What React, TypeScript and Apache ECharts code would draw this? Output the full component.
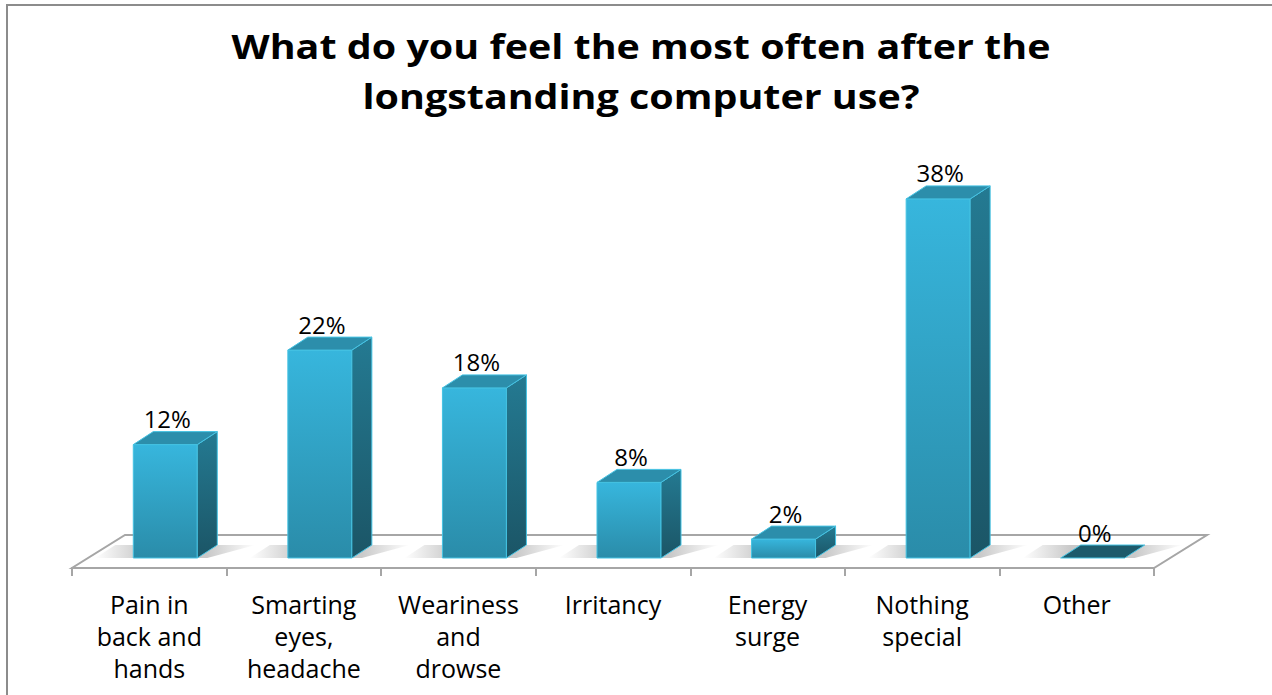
import React, { useEffect, useRef } from "react";
import * as echarts from "echarts";

const TITLE_LINES = ["What do you feel the most often after the", "longstanding computer use?"];
const CATEGORIES = [
  "Pain in\nback and\nhands",
  "Smarting\neyes,\nheadache",
  "Weariness\nand\ndrowse",
  "Irritancy",
  "Energy\nsurge",
  "Nothing\nspecial",
  "Other",
];
const VALUES = [12, 22, 18, 8, 2, 38, 0];
const Y_MAX = 40;

const FONT = "'Open Sans', 'Noto Sans', sans-serif";
const FLOOR_DX = 53;
const FLOOR_DY = 33;
const BAR_BACK = 10;
const BAR_SHIFT = 16;
const BAR_W = 64;
const DEPTH_DX = 20;
const DEPTH_DY = 13;

export default function App() {
  const ref = useRef<HTMLDivElement>(null);
  useEffect(() => {
    if (!ref.current) return;
    const chart = echarts.init(ref.current, null, { renderer: "svg" });
    const barData = VALUES.map((v, i) => [i, v]);
    chart.setOption({
      animation: false,
      backgroundColor: "#ffffff",
      graphic: [
        {
          type: "rect",
          shape: { x: 7, y: 5, width: 1400, height: 900 },
          style: { fill: "none", stroke: "#8c8c8c", lineWidth: 2 },
          z: 0,
        },
        ...TITLE_LINES.map((t, i) => ({
          type: "text",
          x: 641,
          y: 46 + i * 50,
          scaleX: 1.16,
          z: 10,
          style: {
            text: t,
            align: "center",
            verticalAlign: "middle",
            fontFamily: FONT,
            fontSize: 34,
            fontWeight: "bold",
            fill: "#000",
          },
        })),
      ],
      grid: { left: 72, right: 118, top: 190, bottom: 127 },
      xAxis: {
        type: "category",
        data: CATEGORIES,
        axisLine: { show: true, lineStyle: { color: "#a6a6a6", width: 2 } },
        axisTick: { show: true, length: 8, lineStyle: { color: "#a6a6a6", width: 2 } },
        axisLabel: {
          interval: 0,
          margin: 20,
          fontFamily: FONT,
          fontSize: 25,
          lineHeight: 32,
          color: "#000",
        },
        splitLine: { show: false },
        z: 5,
      },
      yAxis: {
        type: "value",
        min: 0,
        max: Y_MAX,
        show: false,
      },
      series: [
        {
          type: "custom",
          z: 1,
          silent: true,
          data: [[0, 0]],
          renderItem: (params: any) => {
            const cs = params.coordSys;
            const x = cs.x, y = cs.y + cs.height, w = cs.width;
            return {
              type: "polygon",
              shape: {
                points: [
                  [x, y],
                  [x + w, y],
                  [x + w + FLOOR_DX, y - FLOOR_DY],
                  [x + FLOOR_DX, y - FLOOR_DY],
                ],
              },
              style: { fill: "#ffffff", stroke: "#a6a6a6", lineWidth: 2 },
            };
          },
        },
        {
          type: "custom",
          z: 3,
          silent: true,
          data: barData,
          renderItem: (params: any, api: any) => {
            const idx = api.value(0);
            const val = api.value(1);
            const base = api.coord([idx, 0]);
            const top = api.coord([idx, val]);
            const cx = base[0] + BAR_SHIFT;
            const x0 = cx - BAR_W / 2;
            const x1 = cx + BAR_W / 2;
            const yb = base[1] - BAR_BACK;
            const yt = top[1] - BAR_BACK;
            const children: any[] = [];
            children.push({
              type: "polygon",
              shape: {
                points: [
                  [x0 - 38, yb],
                  [x1 + 10, yb],
                  [x1 + DEPTH_DX + 38, yb - DEPTH_DY],
                  [x0 - 18, yb - DEPTH_DY],
                ],
              },
              style: {
                fill: new echarts.graphic.LinearGradient(0, 0, 1, 0, [
                  { offset: 0, color: "rgba(120,120,120,0)" },
                  { offset: 0.3, color: "rgba(120,120,120,0.4)" },
                  { offset: 0.7, color: "rgba(120,120,120,0.4)" },
                  { offset: 1, color: "rgba(120,120,120,0)" },
                ]),
              },
            });
            if (val > 0) {
              children.push({
                type: "polygon",
                shape: { points: [[x0, yb], [x1, yb], [x1, yt], [x0, yt]] },
                style: {
                  fill: new echarts.graphic.LinearGradient(0, 0, 0, 1, [
                    { offset: 0, color: "#37b6dd" },
                    { offset: 1, color: "#2a8ca9" },
                  ]),
                  stroke: "#45c3e3",
                  lineWidth: 1,
                },
              });
              children.push({
                type: "polygon",
                shape: {
                  points: [
                    [x1, yt],
                    [x1 + DEPTH_DX, yt - DEPTH_DY],
                    [x1 + DEPTH_DX, yb - DEPTH_DY],
                    [x1, yb],
                  ],
                },
                style: {
                  fill: new echarts.graphic.LinearGradient(0, 0, 0, 1, [
                    { offset: 0, color: "#247a92" },
                    { offset: 1, color: "#1b5566" },
                  ]),
                  stroke: "#45c3e3",
                  lineWidth: 1,
                },
              });
              children.push({
                type: "polygon",
                shape: {
                  points: [
                    [x0, yt],
                    [x1, yt],
                    [x1 + DEPTH_DX, yt - DEPTH_DY],
                    [x0 + DEPTH_DX, yt - DEPTH_DY],
                  ],
                },
                style: { fill: "#2c8eab", stroke: "#45c3e3", lineWidth: 1 },
              });
            } else {
              children.push({
                type: "polygon",
                shape: {
                  points: [
                    [x0, yt],
                    [x1, yt],
                    [x1 + DEPTH_DX, yt - DEPTH_DY],
                    [x0 + DEPTH_DX, yt - DEPTH_DY],
                  ],
                },
                style: { fill: "#1d5a6b", stroke: "#45c3e3", lineWidth: 1 },
              });
            }
            children.push({
              type: "text",
              style: {
                text: `${val}%`,
                x: cx + 2,
                y: yt - DEPTH_DY - 1,
                align: "center",
                verticalAlign: "bottom",
                fontFamily: FONT,
                fontSize: 24,
                fill: "#000",
              },
            });
            return { type: "group", children };
          },
        },
      ],
    });
    return () => chart.dispose();
  }, []);
  return (
    <div
      ref={ref}
      style={{ position: "fixed", left: 0, top: 0, width: 1272, height: 695 }}
    />
  );
}
